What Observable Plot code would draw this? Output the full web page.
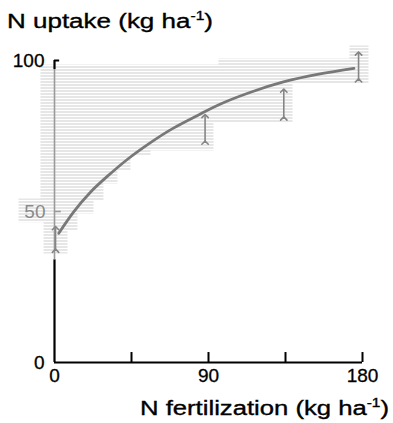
<!DOCTYPE html>
<html>
<head>
<meta charset="utf-8">
<script src="https://cdn.jsdelivr.net/npm/d3@7"></script>
<script src="https://cdn.jsdelivr.net/npm/@observablehq/plot@0.6"></script>
<style>
  html, body { margin: 0; padding: 0; background: #fff; }
  #chart svg { display: block; }
</style>
</head>
<body>
<div id="chart"></div>
<script>
// ---- data ----
const curveX = [2.5, 11.1, 21.0, 31.0, 42.7, 56.1, 69.5, 83.6, 97.0, 114.6, 133.8, 153.7, 175.0];
const curveY = [42.8, 49.8, 56.4, 61.7, 67.3, 72.8, 77.6, 81.8, 85.6, 89.5, 92.9, 95.4, 97.4];

const errX    = [0.6, 88, 134, 177.7];
const errLow  = [37.0, 72.8, 80.8, 93.4];
const errHigh = [44.5, 81.6, 90.0, 102.3];

const xTickMarks  = [45, 90, 135, 180];
const xTickLabels = [0, 90, 180];
const yTickLabels = [0, 50, 100];

// grey (halftone) highlighted zone behind the upper part of the graph
const shadeX = [-8.2, 95.8, 95.8, 172.4, 172.4, 183.5, 183.5, 139.1, 139.1, 92.9, 92.9, 56.1, 56.1, 44.4, 44.4, 36.8, 36.8, 28.6, 28.6, 22.8, 22.8, 13.4, 13.4, 7.6, 7.6, -6.4, -6.4, -21.0, -21.0, -8.2];
const shadeY = [98.7, 98.7, 100.7, 100.7, 105.0, 105.0, 92.4, 92.4, 79.5, 79.5, 70.2, 70.2, 68.5, 68.5, 63.6, 63.6, 59.3, 59.3, 53.6, 53.6, 49.3, 49.3, 43.7, 43.7, 36.1, 36.1, 46.4, 46.4, 54.3, 54.3];

const yTitle = ["N uptake (kg ha", "-1", ")"];
const xTitle = ["N fertilization (kg ha", "-1", ")"];

// ---- tables built from the arrays ----
const curve = curveX.map((x, i) => ({x, y: curveY[i]}));
const errs = errX.map((x, i) => ({x, lo: errLow[i], hi: errHigh[i]}));
const shade = shadeX.map((x, i) => ({x, y: shadeY[i]}));

const FONT = "'Liberation Sans', Arial, Helvetica, sans-serif";
const GREY_AXIS = "#9a9a9a";

const chart = Plot.plot({
  width: 393,
  height: 423,
  marginLeft: 54,
  marginRight: 31,
  marginTop: 60,
  marginBottom: 61,
  x: {domain: [0, 180], axis: null},
  y: {domain: [0, 100], axis: null},
  style: {fontFamily: FONT, background: "white", overflow: "visible"},
  marks: [
    // halftone highlight
    Plot.line(shade, {x: "x", y: "y", fill: "url(#halftone)", stroke: null, curve: "linear-closed"}),
    // y axis: black at bottom, faded inside highlight, black at top
    Plot.ruleX([{x: 0, y1: 0, y2: 34}], {x: "x", y1: "y1", y2: "y2", stroke: "black", strokeWidth: 2.2}),
    Plot.ruleX([{x: 0, y1: 34, y2: 97}], {x: "x", y1: "y1", y2: "y2", stroke: GREY_AXIS, strokeWidth: 1.6}),
    Plot.ruleX([{x: 0, y1: 97, y2: 100}], {x: "x", y1: "y1", y2: "y2", stroke: "black", strokeWidth: 2.2}),
    // y ticks (inward)
    Plot.ruleY([100], {x1: 0, x2: 3, stroke: "black", strokeWidth: 2}),
    Plot.ruleY([50], {x1: 0, x2: 4, stroke: GREY_AXIS, strokeWidth: 1.6}),
    // x axis and inward ticks
    Plot.ruleY([0], {x1: 0, x2: 180, stroke: "black", strokeWidth: 2.2}),
    Plot.ruleX(xTickMarks, {x: d => d, y1: 0, y2: 3.3, stroke: "black", strokeWidth: 2}),
    // y tick labels
    Plot.text(yTickLabels.filter(d => d !== 50), {x: 0, y: d => d, text: d => String(d), textAnchor: "end", dx: -10, fontSize: 19, fill: "black", stroke: "black", strokeWidth: 0.3}),
    Plot.text(yTickLabels.filter(d => d === 50), {x: 0, y: d => d, text: d => String(d), textAnchor: "end", dx: -9, fontSize: 19, fill: "#8a8a8a"}),
    // x tick labels
    Plot.text(xTickLabels, {x: d => d, y: 0, text: d => String(d), dy: 13, fontSize: 19, fill: "black", stroke: "black", strokeWidth: 0.3}),
    // fitted curve
    Plot.line(curve, {x: "x", y: "y", stroke: "#787878", strokeWidth: 2.8, curve: "natural"}),
    // error bars
    Plot.link(errs, {x1: "x", x2: "x", y1: "lo", y2: "hi", stroke: "#858585", strokeWidth: 1.6, markerStart: "arrow", markerEnd: "arrow"})
  ]
});

document.getElementById("chart").appendChild(chart);

// halftone pattern
const svg = d3.select(chart);
const defs = svg.insert("defs", ":first-child");
const pat = defs.append("pattern")
  .attr("id", "halftone")
  .attr("patternUnits", "userSpaceOnUse")
  .attr("width", 2).attr("height", 3);
pat.append("rect").attr("x", 0).attr("y", 0).attr("width", 1).attr("height", 1).attr("fill", "#9a9a9a");

// axis titles with superscripts
function addTitle(parts, x, y, len) {
  const t = svg.append("text")
    .attr("x", x).attr("y", y)
    .attr("text-anchor", "start")
    .attr("font-family", FONT)
    .attr("font-size", 20)
    .attr("fill", "black")
    .attr("stroke", "black")
    .attr("stroke-width", 0.35)
    .attr("textLength", len)
    .attr("lengthAdjust", "spacingAndGlyphs");
  t.append("tspan").text(parts[0]);
  t.append("tspan").attr("font-size", 12).attr("dy", -8).text(parts[1]);
  t.append("tspan").attr("dy", 8).text(parts[2]);
}
addTitle(yTitle, 7, 27.5, 206);
addTitle(xTitle, 140, 415, 249);
</script>
</body>
</html>
